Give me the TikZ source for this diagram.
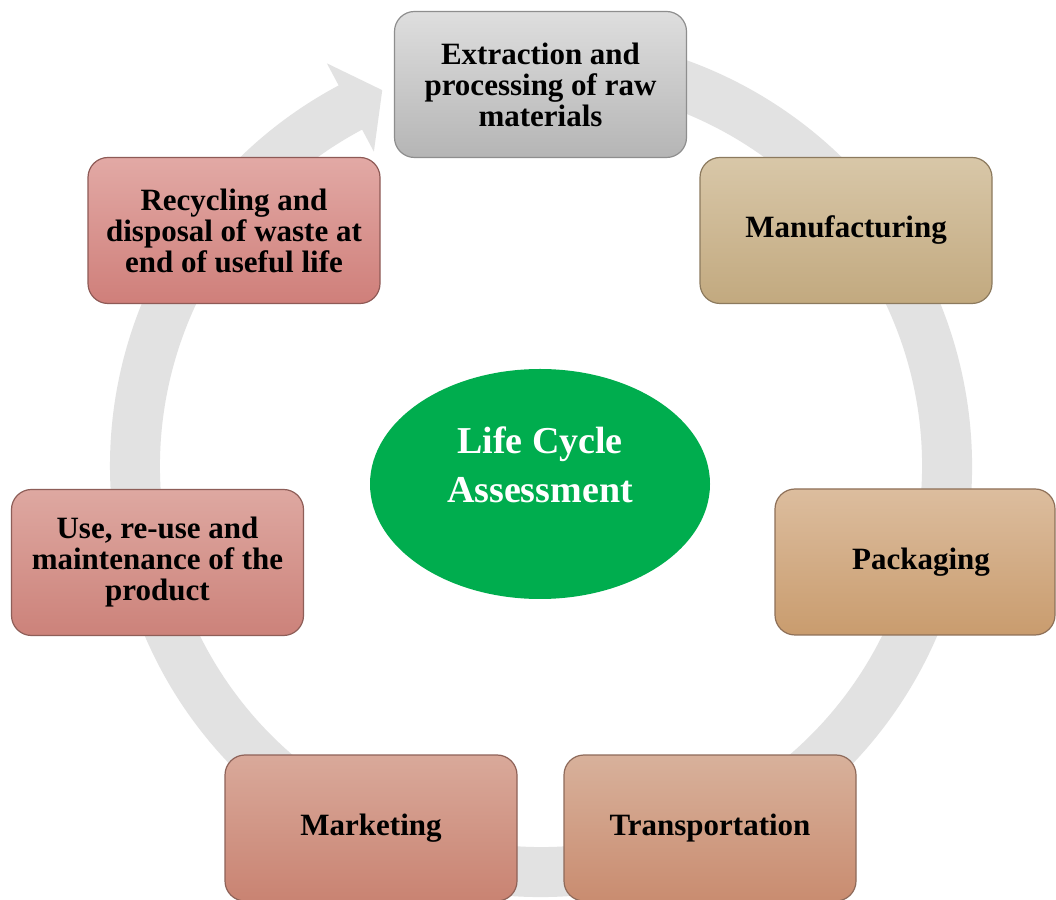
\documentclass[tikz,border=0pt]{standalone}
\usepackage{fontspec}
\setmainfont{Liberation Serif}
\usetikzlibrary{shapes.geometric}
\definecolor{ringgray}{HTML}{E2E2E2}
\definecolor{lcagreen}{HTML}{00AD4E}
\definecolor{extT}{HTML}{DEDEDE}\definecolor{extB}{HTML}{B5B5B5}\definecolor{extD}{HTML}{8E8E8E}
\definecolor{manT}{HTML}{D8C7A8}\definecolor{manB}{HTML}{C2A97F}\definecolor{manD}{HTML}{8C7A5E}
\definecolor{pacT}{HTML}{DCBD9E}\definecolor{pacB}{HTML}{C99C6E}\definecolor{pacD}{HTML}{8E7058}
\definecolor{traT}{HTML}{D8B19B}\definecolor{traB}{HTML}{C98C70}\definecolor{traD}{HTML}{8E6A5A}
\definecolor{marT}{HTML}{D9A99A}\definecolor{marB}{HTML}{C98372}\definecolor{marD}{HTML}{8E6258}
\definecolor{useT}{HTML}{DEA8A1}\definecolor{useB}{HTML}{CC827A}\definecolor{useD}{HTML}{8E5E58}
\definecolor{recT}{HTML}{E2A9A5}\definecolor{recB}{HTML}{CF7F7A}\definecolor{recD}{HTML}{8E5A56}
\tikzset{
  stagebox/.style={rectangle, rounded corners=20pt, line width=1.2pt,
    minimum width=292pt, minimum height=146pt, align=center, inner sep=0pt,
    font=\fontsize{31}{31}\selectfont\bfseries, text=black},
  centreoval/.style={ellipse, fill=lcagreen, minimum width=340pt, minimum height=230pt,
    inner sep=0pt, align=center, text=white,
    font=\fontsize{38}{49}\selectfont\bfseries}
}
\begin{document}
\begin{tikzpicture}[x=1pt,y=1pt]
\useasboundingbox (0,0) rectangle (1056,899);
\fill[white] (0,0) rectangle (1056,899);
% cycle arrow
\begin{scope}[shift={(541,433)}]
\fill[ringgray] (100:431) arc[start angle=100, end angle=-242, radius=431]
  -- (118:456) -- (112.9:408) -- (118:356) -- (118:381)
  arc[start angle=118, end angle=460, radius=381] -- cycle;
\end{scope}
% centre
\node[centreoval] (lca) at (540,415)
  {\raisebox{10pt}[0pt][0pt]{\begin{tabular}{@{}c@{}}Life Cycle\\Assessment\end{tabular}}};
% stages
\node[stagebox, draw=extD, top color=extT, bottom color=extB] (ext) at (540.5,814.5)
  {Extraction and\\processing of raw\\materials};
\node[stagebox, draw=manD, top color=manT, bottom color=manB] (man) at (846,668.5)
  {Manufacturing};
\node[stagebox, draw=pacD, top color=pacT, bottom color=pacB, minimum width=280pt] (pac) at (915,337)
  {\hspace*{12pt}Packaging};
\node[stagebox, draw=traD, top color=traT, bottom color=traB] (tra) at (710,71)
  {\raisebox{-6pt}{Transportation}};
\node[stagebox, draw=marD, top color=marT, bottom color=marB] (mar) at (371,71)
  {\raisebox{-6pt}{Marketing}};
\node[stagebox, draw=useD, top color=useT, bottom color=useB] (use) at (157.5,336.5)
  {Use, re-use and\\maintenance of the\\product};
\node[stagebox, draw=recD, top color=recT, bottom color=recB] (rec) at (234,668.5)
  {Recycling and\\disposal of waste at\\end of useful life};
\end{tikzpicture}
\end{document}
